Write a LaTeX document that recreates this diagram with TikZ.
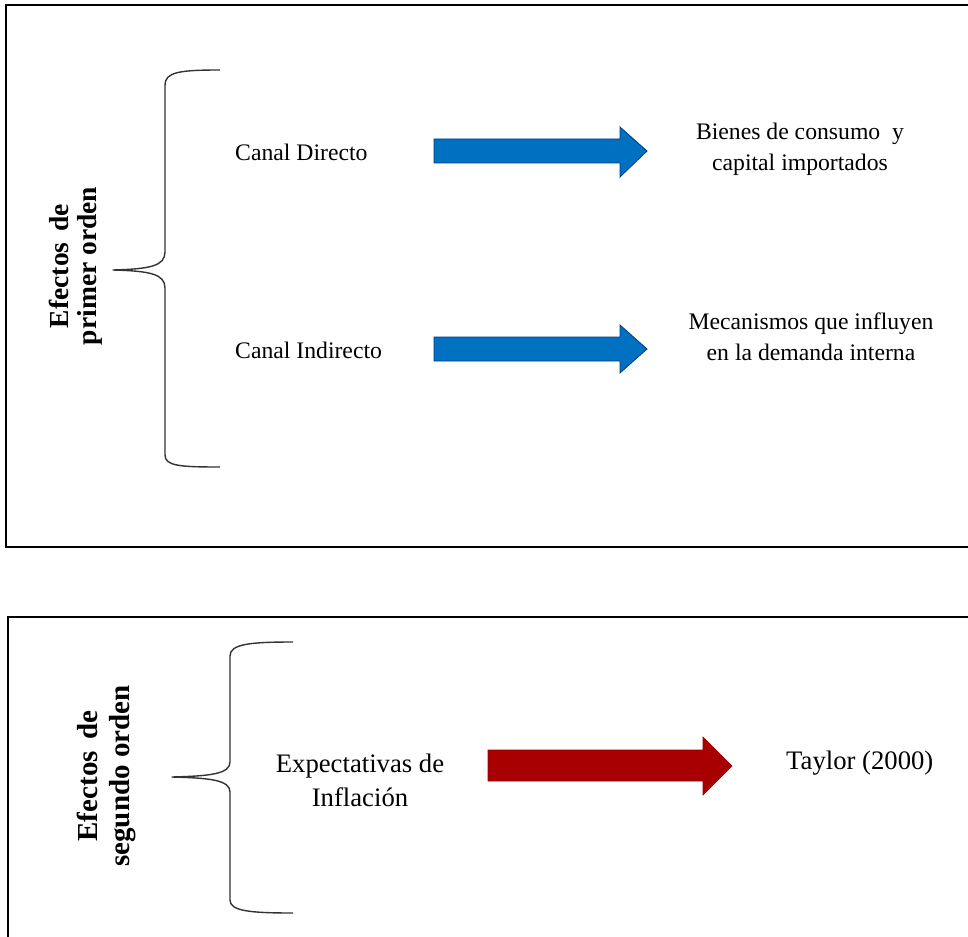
\documentclass[tikz,border=0pt]{standalone}
\usepackage{fontspec}
\setmainfont{Liberation Serif}
\begin{document}
\begin{tikzpicture}[x=1pt,y=-1pt,
  frame/.style={draw=black,line width=1.8pt},
  bracepath/.style={draw=black!80,line width=1.4pt,line join=round},
  txtA/.style={font=\fontsize{23.7}{31}\selectfont,align=center,inner sep=0pt},
  txtB/.style={font=\fontsize{26.7}{34}\selectfont,align=center,inner sep=0pt},
  sideA/.style={font=\fontsize{27.5}{28}\selectfont\bfseries,align=center,rotate=90,inner sep=0pt},
  sideB/.style={font=\fontsize{29}{32}\selectfont\bfseries,align=center,rotate=90,inner sep=0pt},
  bluearrow/.style={fill={rgb,255:red,0;green,112;blue,192},draw={rgb,255:red,0;green,60;blue,130},line width=0.8pt,line join=miter},
  redarrow/.style={fill={rgb,255:red,168;green,0;blue,0},draw={rgb,255:red,150;green,0;blue,0},line width=0.6pt}
]
\useasboundingbox (0,0) rectangle (968,936);
\fill[white] (0,0) rectangle (968,936);

% frames
\draw[frame] (975,5) -- (6,5) -- (6,547) -- (975,547);
\draw[frame] (975,617) -- (8,617) -- (8,945);

% ---------- box 1 ----------
\node[sideA] (s1) at (76,266) {Efectos\hspace{0.4em}de\\primer orden};
\draw[bracepath] (220,70) .. controls (180,70) and (165,72) .. (165,85)
  -- (165,252) .. controls (165,266) and (150,269) .. (113,270)
  .. controls (150,271) and (165,274) .. (165,288)
  -- (165,455) .. controls (165,466) and (180,467) .. (220,467);

\node[txtA,anchor=west] (cd) at (235,152) {Canal Directo};
\node[txtA,anchor=west] (ci) at (235,350) {Canal Indirecto};

\coordinate (a1) at (434,151);
\filldraw[bluearrow] (434,139) -- (620,139) -- (620,127) -- (647,151) -- (620,177) -- (620,163) -- (434,163) -- cycle;
\coordinate (a2) at (434,349);
\filldraw[bluearrow] (434,337) -- (620,337) -- (620,325) -- (647,349) -- (620,373) -- (620,361) -- (434,361) -- cycle;

\node[txtA] (r1) at (800,149) {Bienes de consumo \ y\\capital importados};
\node[txtA] (r2) at (811,337) {Mecanismos que influyen\\en la demanda interna};

% ---------- box 2 ----------
\node[sideB] (s2) at (106,776) {Efectos\hspace{0.4em}de\\segundo orden};
\draw[bracepath] (293,642) .. controls (250,642) and (230,644) .. (230,656)
  -- (230,762) .. controls (230,774) and (210,776) .. (172,777)
  .. controls (210,778) and (230,780) .. (230,792)
  -- (230,900) .. controls (230,911) and (250,913) .. (293,913);

\node[txtB] (ex) at (360,780) {Expectativas de\\Inflación};
\filldraw[redarrow] (488,750) -- (703,750) -- (703,737) -- (732,766) -- (703,795) -- (703,781) -- (488,781) -- cycle;
\node[txtB,anchor=west] (ty) at (786,763) {Taylor (2000)};
\end{tikzpicture}
\end{document}
